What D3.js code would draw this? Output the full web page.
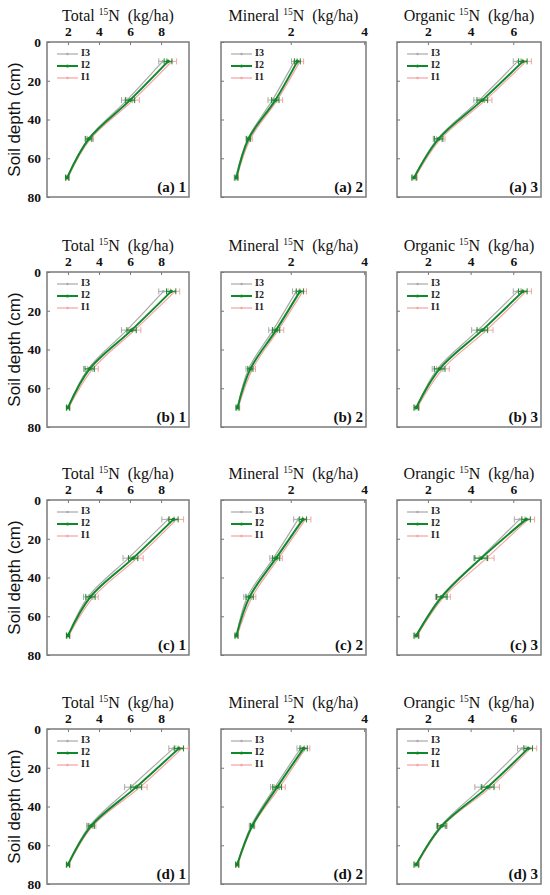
<!DOCTYPE html>
<html lang="en">
<head>
  <meta charset="UTF-8">
  <title>Soil depth 15N</title>
  <script src="https://d3js.org/d3.v7.min.js"></script>
  <style>
    body { margin: 0; background: #fff; }
  </style>
</head>
<body>
  <svg id="chart" width="550" height="895"></svg>
  <script>
    // depths (cm) of the four sampling layers
    const depths = [10, 30, 50, 70];
    const series = ["I3", "I2", "I1"];
    const rowNames = ["a", "b", "c", "d"];

    // values per panel: [I3, I2, I1], each over depths 10,30,50,70 (kg/ha)
    const a1 = [[8.1, 5.8, 3.3, 1.95], [8.45, 6.0, 3.35, 1.95], [8.7, 6.2, 3.45, 2.0]];
    const a2 = [[2.1, 1.5, 0.83, 0.5], [2.18, 1.58, 0.85, 0.52], [2.25, 1.63, 0.9, 0.53]];
    const a3 = [[6.2, 4.4, 2.45, 1.35], [6.45, 4.55, 2.5, 1.35], [6.6, 4.7, 2.6, 1.4]];
    const b1 = [[8.15, 5.8, 3.3, 2.0], [8.65, 6.1, 3.4, 2.0], [8.9, 6.3, 3.6, 2.05]];
    const b2 = [[2.15, 1.52, 0.85, 0.55], [2.25, 1.6, 0.9, 0.55], [2.33, 1.66, 0.96, 0.57]];
    const b3 = [[6.2, 4.35, 2.45, 1.45], [6.45, 4.55, 2.55, 1.45], [6.6, 4.75, 2.7, 1.5]];
    const c1 = [[8.45, 5.9, 3.3, 2.0], [8.8, 6.2, 3.45, 2.0], [9.0, 6.45, 3.65, 2.05]];
    const c2 = [[2.2, 1.53, 0.82, 0.52], [2.33, 1.6, 0.88, 0.52], [2.4, 1.67, 0.95, 0.54]];
    const c3 = [[6.3, 4.45, 2.6, 1.45], [6.6, 4.5, 2.65, 1.45], [6.7, 4.75, 2.75, 1.5]];
    const d1 = [[8.8, 6.05, 3.4, 2.0], [9.15, 6.4, 3.5, 2.0], [9.35, 6.65, 3.6, 2.05]];
    const d2 = [[2.27, 1.57, 0.92, 0.54], [2.35, 1.63, 0.95, 0.54], [2.4, 1.7, 0.97, 0.56]];
    const d3v = [[6.4, 4.55, 2.6, 1.45], [6.7, 4.8, 2.65, 1.45], [6.8, 4.95, 2.7, 1.5]];

    // standard errors, same layout
    const a1Err = [[0.25, 0.35, 0.2, 0.1], [0.25, 0.3, 0.2, 0.1], [0.3, 0.4, 0.2, 0.1]];
    const a2Err = [[0.08, 0.12, 0.05, 0.04], [0.08, 0.1, 0.05, 0.04], [0.1, 0.15, 0.05, 0.04]];
    const a3Err = [[0.2, 0.25, 0.2, 0.1], [0.2, 0.25, 0.2, 0.1], [0.25, 0.3, 0.2, 0.1]];
    const b1Err = [[0.3, 0.35, 0.3, 0.1], [0.3, 0.3, 0.3, 0.1], [0.3, 0.4, 0.35, 0.1]];
    const b2Err = [[0.1, 0.12, 0.07, 0.04], [0.1, 0.1, 0.07, 0.04], [0.1, 0.15, 0.08, 0.04]];
    const b3Err = [[0.2, 0.3, 0.25, 0.1], [0.2, 0.25, 0.25, 0.1], [0.25, 0.3, 0.3, 0.1]];
    const c1Err = [[0.4, 0.35, 0.3, 0.1], [0.3, 0.3, 0.3, 0.1], [0.45, 0.4, 0.3, 0.1]];
    const c2Err = [[0.12, 0.1, 0.1, 0.04], [0.1, 0.1, 0.1, 0.04], [0.15, 0.1, 0.1, 0.04]];
    const c3Err = [[0.25, 0.3, 0.25, 0.1], [0.2, 0.3, 0.25, 0.1], [0.3, 0.35, 0.3, 0.1]];
    const d1Err = [[0.3, 0.4, 0.2, 0.1], [0.3, 0.35, 0.2, 0.1], [0.4, 0.45, 0.2, 0.1]];
    const d2Err = [[0.1, 0.12, 0.05, 0.04], [0.1, 0.12, 0.05, 0.04], [0.12, 0.15, 0.05, 0.04]];
    const d3Err = [[0.2, 0.35, 0.2, 0.1], [0.2, 0.3, 0.2, 0.1], [0.3, 0.4, 0.2, 0.1]];

    const panelData = [[a1, a2, a3], [b1, b2, b3], [c1, c2, c3], [d1, d2, d3v]];
    const panelErr = [[a1Err, a2Err, a3Err], [b1Err, b2Err, b3Err], [c1Err, c2Err, c3Err], [d1Err, d2Err, d3Err]];

    // x axes per column
    const xDomains = [[0.65, 9.8], [0.1, 4.05], [0.55, 7.3]];
    const xTicks = [[2, 4, 6, 8], [2, 4], [2, 4, 6]];
    const yTicks = [0, 20, 40, 60, 80];
    const titleNames = [["Total", "Mineral", "Organic"], ["Total", "Mineral", "Organic"],
                        ["Total", "Mineral", "Orangic"], ["Total", "Mineral", "Orangic"]];

    const colors = { I3: "#a9a9a9", I2: "#0f8a2a", I1: "#f4a3a3" };
    const widths = { I3: 1.2, I2: 2, I1: 1.2 };
    const drawOrder = [2, 0, 1]; // I1, I3, then I2 on top

    const svg = d3.select("#chart");
    const rowTops = [42, 272, 500, 729];
    const colLefts = [47, 221, 397];
    const colWidths = [142, 145, 144];
    const panelH = 155;
    const serif = "Liberation Serif, Times New Roman, serif";

    function styleTicks(axisG) {
      axisG.select(".domain").remove();
      axisG.selectAll(".tick line").attr("stroke", "#777");
      axisG.selectAll(".tick text")
        .attr("font-family", serif)
        .attr("font-weight", "bold")
        .attr("font-size", "13.5px")
        .attr("fill", "#111");
    }

    rowTops.forEach((top, r) => {
      // y label for the row
      svg.append("text")
        .attr("transform", `translate(16,${top + panelH / 2}) rotate(-90)`)
        .attr("text-anchor", "middle")
        .attr("dominant-baseline", "middle")
        .attr("font-family", "Liberation Sans, Arial, sans-serif")
        .attr("font-size", "17px")
        .attr("fill", "#111")
        .text("Soil depth (cm)");

      colLefts.forEach((left, c) => {
        const w = colWidths[c];
        const g = svg.append("g").attr("transform", `translate(${left},${top})`);
        const x = d3.scaleLinear().domain(xDomains[c]).range([0, w]);
        const y = d3.scaleLinear().domain([0, 80]).range([0, panelH]);

        // top axis
        g.append("g")
          .call(d3.axisTop(x).tickValues(xTicks[c]).tickSize(-3).tickPadding(6)
            .tickFormat(d3.format("d")))
          .call(styleTicks);

        // left axis
        g.append("g")
          .call(d3.axisLeft(y).tickValues(yTicks).tickSize(-3).tickPadding(6)
            .tickFormat(c === 0 ? d3.format("d") : ""))
          .call(styleTicks);

        // frame
        g.append("rect")
          .attr("width", w).attr("height", panelH)
          .attr("fill", "none").attr("stroke", "#7a7a7a").attr("stroke-width", 1.5);

        // title
        const t = g.append("text")
          .attr("x", w / 2).attr("y", -21)
          .attr("text-anchor", "middle")
          .attr("font-family", serif)
          .attr("font-size", "16px")
          .attr("fill", "#111")
          .style("white-space", "pre");
        t.append("tspan").text(titleNames[r][c] + " ");
        t.append("tspan").attr("font-size", "9.5px").attr("dy", -6).text("15");
        t.append("tspan").attr("dy", 6).text("N  (kg/ha)");

        // series
        const line = d3.line()
          .x(d => x(d.v)).y(d => y(d.depth))
          .curve(d3.curveCatmullRom.alpha(0.5));

        drawOrder.forEach(si => {
          const name = series[si];
          const pts = depths.map((dep, i) => ({
            depth: dep, v: panelData[r][c][si][i], e: panelErr[r][c][si][i]
          }));
          const sg = g.append("g");
          sg.append("path").datum(pts)
            .attr("d", line)
            .attr("fill", "none")
            .attr("stroke", colors[name])
            .attr("stroke-width", widths[name]);
          // error bars
          sg.selectAll("line.err").data(pts).join("line").attr("class", "err")
            .attr("x1", d => x(d.v - d.e)).attr("x2", d => x(d.v + d.e))
            .attr("y1", d => y(d.depth)).attr("y2", d => y(d.depth))
            .attr("stroke", colors[name]).attr("stroke-width", 1);
          sg.selectAll("line.capL").data(pts).join("line").attr("class", "capL")
            .attr("x1", d => x(d.v - d.e)).attr("x2", d => x(d.v - d.e))
            .attr("y1", d => y(d.depth) - 3).attr("y2", d => y(d.depth) + 3)
            .attr("stroke", colors[name]).attr("stroke-width", 1);
          sg.selectAll("line.capR").data(pts).join("line").attr("class", "capR")
            .attr("x1", d => x(d.v + d.e)).attr("x2", d => x(d.v + d.e))
            .attr("y1", d => y(d.depth) - 3).attr("y2", d => y(d.depth) + 3)
            .attr("stroke", colors[name]).attr("stroke-width", 1);
          sg.selectAll("circle").data(pts).join("circle")
            .attr("cx", d => x(d.v)).attr("cy", d => y(d.depth))
            .attr("r", name === "I2" ? 1.8 : 1.3)
            .attr("fill", colors[name]);
        });

        // legend
        series.forEach((name, i) => {
          const ly = 12 + i * 12;
          g.append("line")
            .attr("x1", 10).attr("x2", 31).attr("y1", ly).attr("y2", ly)
            .attr("stroke", colors[name]).attr("stroke-width", widths[name]);
          g.append("circle")
            .attr("cx", 20.5).attr("cy", ly).attr("r", name === "I2" ? 1.6 : 1.2)
            .attr("fill", colors[name]);
          g.append("text")
            .attr("x", 34).attr("y", ly)
            .attr("dominant-baseline", "middle")
            .attr("font-family", serif)
            .attr("font-weight", "bold")
            .attr("font-size", "10px")
            .attr("fill", "#222")
            .text(name);
        });

        // panel label
        g.append("text")
          .attr("x", w - 3).attr("y", panelH - 5)
          .attr("text-anchor", "end")
          .attr("font-family", serif)
          .attr("font-weight", "bold")
          .attr("font-size", "15px")
          .attr("fill", "#111")
          .text(`(${rowNames[r]}) ${c + 1}`);
      });
    });
  </script>
</body>
</html>
